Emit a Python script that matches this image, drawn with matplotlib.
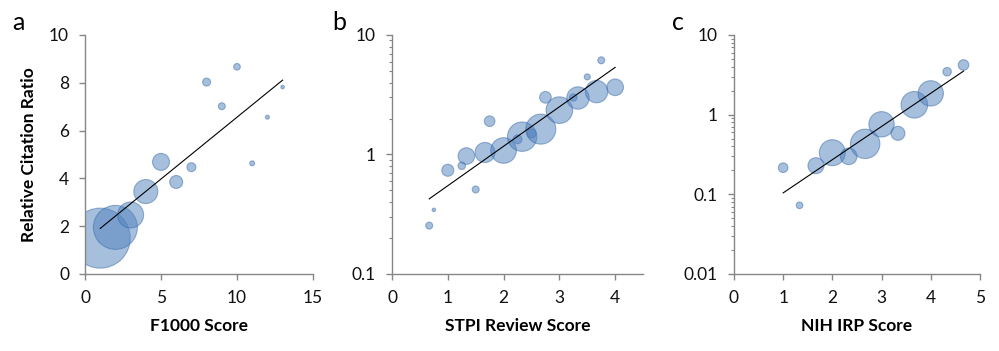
import numpy as np
import matplotlib
matplotlib.use("Agg")
import matplotlib.pyplot as plt
from matplotlib.ticker import LogLocator, NullFormatter, FixedLocator

plt.rcParams['font.family'] = ['Lato', 'DejaVu Sans']

# panel a: F1000 score vs mean RCR, bubble area ~ number of articles
a_x = [1, 2, 3, 4, 5, 6, 7, 8, 9, 10, 11, 12, 13]
a_y = [1.5, 1.95, 2.47, 3.45, 4.69, 3.85, 4.47, 8.03, 7.02, 8.67, 4.63, 6.56, 7.82]
a_n = [900, 484, 169, 144, 72, 42, 20, 16, 12, 11, 6, 4, 3]

# panel b: STPI review score
b_x = [0.667, 0.75, 1.0, 1.25, 1.333, 1.5, 1.667, 1.75, 2.0, 2.25, 2.333,
       2.5, 2.667, 2.75, 3.0, 3.25, 3.333, 3.5, 3.667, 3.75, 4.0]
b_y = [0.254, 0.344, 0.738, 0.805, 0.97, 0.51, 1.04, 1.9, 1.08, 1.34, 1.41,
       1.5, 1.63, 3.01, 2.35, 3.0, 2.97, 4.46, 3.36, 6.14, 3.65]
b_n = [12, 3, 36, 14, 69, 12, 100, 28, 164, 20, 216,
       20, 225, 34, 177, 14, 125, 9, 125, 12, 69]

# panel c: NIH IRP score
c_x = [1.0, 1.333, 1.667, 2.0, 2.333, 2.667, 3.0, 3.333, 3.667, 4.0, 4.333, 4.667]
c_y = [0.216, 0.0728, 0.229, 0.333, 0.30, 0.43, 0.757, 0.583, 1.33, 1.85, 3.46, 4.2]
c_n = [23, 11, 64, 169, 69, 216, 161, 49, 177, 161, 18, 28]

DPI = 100
fig = plt.figure(figsize=(9.99, 3.51), dpi=DPI)

fill = '#4F81BD'
grey = '#868686'


def bubble_size(n):
    # n ~ radius^2 in pixels; scatter wants (diameter in points)^2
    return [(2 * np.sqrt(v) * 72 / DPI) ** 2 for v in n]


def style(ax):
    for side in ['top', 'right']:
        ax.spines[side].set_visible(False)
    for side in ['left', 'bottom']:
        ax.spines[side].set_color(grey)
        ax.spines[side].set_linewidth(1.0)
    ax.tick_params(which='major', direction='out', length=4.5, width=1.0,
                   color=grey, labelsize=12.5, pad=7, labelcolor='#111111')
    ax.tick_params(which='minor', direction='out', length=2.5, width=0.8,
                   color=grey)


def panel(rect, x, y, n, logy):
    ax = fig.add_axes(rect)
    pts = ax.scatter(x, y, s=bubble_size(n), facecolor=fill, alpha=0.5,
                     edgecolor='#3A6BA8', linewidth=0.8, zorder=2)
    # bubbles are cut off at the plot area, like the original
    pts.set_clip_path(ax.patch)
    xs = np.array([min(x), max(x)])
    if logy:
        k, b0 = np.polyfit(x, np.log10(y), 1)
        ax.plot(xs, 10 ** (k * xs + b0), color='black', lw=0.8, zorder=3)
        ax.set_yscale('log')
        ax.yaxis.set_minor_locator(LogLocator(base=10, subs=np.arange(2, 10)))
        ax.yaxis.set_minor_formatter(NullFormatter())
        ax.yaxis.set_major_formatter(plt.FuncFormatter(lambda v, p: f'{v:g}'))
    else:
        k, b0 = np.polyfit(x, y, 1)
        ax.plot(xs, k * xs + b0, color='black', lw=0.8, zorder=3)
    style(ax)
    return ax


ax1 = panel([0.0851, 0.2194, 0.2282, 0.6809], a_x, a_y, a_n, False)
ax1.set_xlim(0, 15)
ax1.set_ylim(0, 10)
ax1.set_xticks([0, 5, 10, 15])
ax1.set_yticks([0, 2, 4, 6, 8, 10])
ax1.set_xlabel('F1000 Score', fontsize=12.5, fontweight='bold', labelpad=9)
ax1.set_ylabel('Relative Citation Ratio', fontsize=12.5, fontweight='bold', labelpad=9)

ax2 = panel([0.3924, 0.2194, 0.2513, 0.6809], b_x, b_y, b_n, True)
ax2.set_xlim(0, 4.5)
ax2.set_ylim(0.1, 10)
ax2.xaxis.set_major_locator(FixedLocator([0, 1, 2, 3, 4]))
ax2.set_xlabel('STPI Review Score', fontsize=12.5, fontweight='bold', labelpad=9)

ax3 = panel([0.7347, 0.2194, 0.2462, 0.6809], c_x, c_y, c_n, True)
ax3.set_xlim(0, 5)
ax3.set_ylim(0.01, 10)
ax3.set_xticks([0, 1, 2, 3, 4, 5])
ax3.set_xlabel('NIH IRP Score', fontsize=12.5, fontweight='bold', labelpad=9)

fig.text(0.012, 0.915, 'a', fontsize=18)
fig.text(0.333, 0.915, 'b', fontsize=18)
fig.text(0.673, 0.915, 'c', fontsize=18)

fig.savefig('out.png', dpi=DPI)
